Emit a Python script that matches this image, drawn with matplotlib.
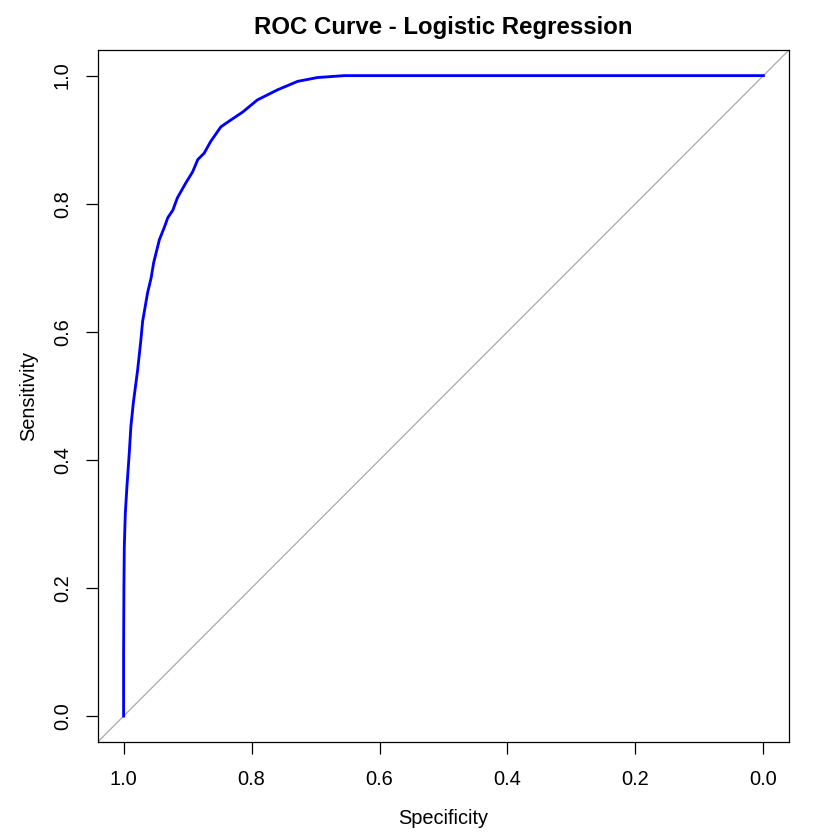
import matplotlib
matplotlib.use("Agg")
import matplotlib.pyplot as plt

plt.rcParams['font.family'] = ['Liberation Sans', 'DejaVu Sans']

# ROC curve points
specificity = [1.0, 1.0, 0.9995, 0.9989, 0.9973, 0.9948, 0.9911, 0.9886, 0.9848,
               0.9781, 0.973, 0.9703, 0.9625, 0.957, 0.953, 0.948, 0.944, 0.936,
               0.931, 0.923, 0.916, 0.903, 0.892, 0.884, 0.874, 0.864, 0.848,
               0.832, 0.814, 0.791, 0.759, 0.728, 0.697, 0.655, 0.0]
sensitivity = [0.0, 0.098, 0.2017, 0.264, 0.317, 0.358, 0.411, 0.452, 0.489,
               0.540, 0.587, 0.616, 0.661, 0.684, 0.708, 0.728, 0.744, 0.764,
               0.778, 0.790, 0.809, 0.832, 0.850, 0.869, 0.879, 0.897, 0.920,
               0.931, 0.943, 0.962, 0.978, 0.991, 0.997, 1.0, 1.0]
ticks = [1.0, 0.8, 0.6, 0.4, 0.2, 0.0]

fig = plt.figure(figsize=(7, 7), dpi=120)
ax = fig.add_axes([98/840, (840-741.7)/840, (789-98)/840, (741.7-50)/840])

ax.plot([1.04, -0.04], [-0.04, 1.04], color='darkgrey', lw=0.75, zorder=1)
ax.plot(specificity, sensitivity, color='blue', lw=1.7, zorder=2)

ax.set_xlim(1.04, -0.04)
ax.set_ylim(-0.04, 1.04)
ax.set_xticks(ticks)
ax.set_xticklabels(['%.1f' % t for t in ticks])
ax.set_yticks(ticks)
ax.set_yticklabels(['%.1f' % t for t in ticks], rotation=90, va='center')
ax.tick_params(axis='x', length=7.2, width=0.75, labelsize=12, pad=9.5)
ax.tick_params(axis='y', length=7.2, width=0.75, labelsize=12, pad=8.5)
for s in ax.spines.values():
    s.set_linewidth(0.75)

ax.set_xlabel('Specificity', fontsize=12, labelpad=12)
ax.set_ylabel('Sensitivity', fontsize=12, labelpad=9)
ax.set_title('ROC Curve - Logistic Regression', fontsize=14.4, fontweight='bold', pad=9.5)

fig.savefig('out.png', dpi=120)
